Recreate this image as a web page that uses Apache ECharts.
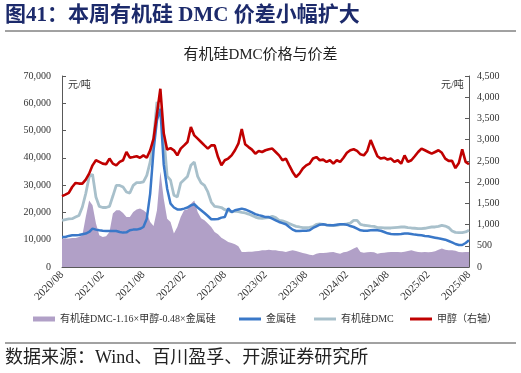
<!DOCTYPE html>
<html><head><meta charset="utf-8">
<script src="https://cdn.jsdelivr.net/npm/echarts@6/dist/echarts.min.js"></script>
<style>html,body{margin:0;padding:0;background:#fff}#c{width:521px;height:373px}</style>
</head><body><div id="c"></div>
<script>
const tickLabels = ['2020/08','2021/02','2021/08','2022/02','2022/08','2023/02','2023/08','2024/02','2024/08','2025/02','2025/08'];
const seriesNames = ['有机硅DMC-1.16×甲醇-0.48×金属硅','金属硅','有机硅DMC','甲醇（右轴）'];
// 有机硅DMC价差 (元/吨), half-monthly from 2020/08
const spread = [10400,10400,10400,10600,10600,11000,11600,18300,24400,22600,
16000,11600,11000,11250,12830,19600,20800,20800,19800,18300,
18300,20200,21100,21400,20800,19800,16500,15000,20800,35000,
25000,17700,16500,12240,14660,18300,20800,21100,23200,24400,
20150,17900,17100,15900,14660,12830,12000,10750,10000,9160,
8800,8300,7580,5500,5500,5620,5620,5740,5860,6120,
6120,6350,6120,6120,5860,5740,5500,5860,6120,5860,
5500,5130,4900,4520,4290,4900,5130,5130,5250,5380,
5500,5130,4900,5380,5620,6120,6740,7330,5500,5250,
5380,5500,5380,4900,5130,5250,5380,5500,5500,5500,
5380,5620,5860,6120,5740,5500,5380,5500,5380,5500,
5740,6350,6740,6350,6120,6120,6000,5500,5380,5500,5500];
// 金属硅 (元/吨)
const silicon = [11000,11000,11400,11600,11600,11700,12000,12240,12830,14070,
13700,13450,13300,13200,13200,13200,13200,12830,12600,12700,
13450,13700,13700,14000,14660,17700,26900,42800,53800,58000,
37500,28700,23200,21800,21100,21100,21400,21800,22600,23000,
21800,20800,19800,18700,17500,17500,17600,18100,18300,21500,
20150,20800,21100,21400,21100,20600,20000,19400,19000,18700,
18300,18300,17700,17100,16500,16100,15650,14660,13700,13200,
13200,13300,13300,13450,14300,14900,15500,15650,15400,15300,
15300,15500,15650,15650,15500,15000,14660,14070,13450,13300,
13300,13450,13600,13450,13300,12830,12350,12100,12000,12000,
12100,12240,12240,12100,11870,11750,11620,11380,11250,11000,
10750,10500,10260,10020,9530,9040,8430,8060,8060,8800,9790];
// 有机硅DMC (元/吨)
const dmc = [17100,17400,17600,17700,18300,18900,22000,26900,33000,34000,
25650,22200,21800,21800,22200,26000,29900,29900,29300,27500,
27100,29900,30900,30900,31200,33600,38500,47000,60500,57000,
48000,33300,31800,26300,25700,30800,32000,33200,37300,38500,
33200,30800,29900,27500,23800,22200,22000,21800,21000,20600,
20150,20500,20300,20000,19800,19400,18900,18300,17900,17800,
18000,18100,18600,18100,17100,16900,16500,15900,15400,14900,
14660,14400,14400,14550,14800,15650,15770,15650,15400,15300,
15200,15300,15500,15650,15770,16100,17100,17100,15650,15300,
15200,15000,14900,14440,14440,14300,14300,14300,14440,14550,
14660,14660,14440,14300,14200,14070,14070,14200,14440,14660,
14660,14900,15280,15000,14440,13200,12700,12600,12600,12830,13450];
// 甲醇 (元/吨, 右轴)
const methanol = [1670,1705,1745,1885,1980,1965,1965,2060,2200,2395,
2515,2475,2435,2420,2555,2435,2395,2475,2515,2710,
2575,2590,2610,2575,2630,2575,2750,3025,3610,4200,
3150,2765,2800,2750,2630,2790,2865,2945,3300,3100,
3025,2945,2865,2790,2865,2865,2590,2395,2515,2555,
2630,2750,2905,3250,2890,2825,2765,2670,2735,2710,
2750,2775,2790,2710,2630,2515,2555,2395,2240,2120,
2200,2320,2395,2435,2555,2590,2515,2530,2475,2515,
2435,2515,2475,2575,2690,2750,2775,2735,2655,2630,
2735,2990,2800,2610,2555,2575,2530,2555,2475,2515,
2435,2630,2475,2515,2610,2710,2790,2750,2710,2670,
2710,2750,2690,2555,2500,2500,2330,2450,2770,2475,2420];

const categories = [];
for (let i = 0; i < spread.length; i++) {
  const m = Math.floor(i / 2);
  const y = 2020 + Math.floor((7 + m) / 12);
  const mo = (7 + m) % 12 + 1;
  categories.push(y + '/' + String(mo).padStart(2, '0') + (i % 2 ? '/16' : '/01'));
}

const SERIF = "'Liberation Serif','Noto Sans CJK SC',serif";
const COLORS = ['#b1a0c7', '#3a78c8', '#a8c0cb', '#c00000'];
const fmt = v => v.toLocaleString('en-US');

const chart = echarts.init(document.getElementById('c'), null, {renderer: 'canvas'});
const legendPos = [28, 234, 309, 405];
chart.setOption({
  animation: false,
  backgroundColor: '#fff',
  grid: {left: 62, top: 76, width: 407, height: 191, containLabel: false},
  legend: seriesNames.map((n, k) => ({
    data: [n], left: legendPos[k], top: 309, icon: 'rect',
    itemWidth: 22, itemHeight: k === 0 ? 5 : 3, itemGap: 0,
    textStyle: {fontFamily: SERIF, fontSize: 10, color: '#333'}
  })),
  xAxis: {
    type: 'category', data: categories, boundaryGap: false,
    axisLine: {lineStyle: {color: '#595959', width: 1}},
    axisTick: {inside: true, length: 4, interval: 11, lineStyle: {color: '#595959'}},
    axisLabel: {
      interval: 11, rotate: 45, margin: 6, fontFamily: SERIF, fontSize: 11, color: '#333',
      formatter: (v, i) => tickLabels[Math.round(i / 12)]
    },
    splitLine: {show: false}
  },
  yAxis: [{
    type: 'value', min: 0, max: 70000, interval: 10000, position: 'left',
    axisLine: {show: true, lineStyle: {color: '#595959'}},
    axisTick: {show: true, inside: true, length: 4, lineStyle: {color: '#595959'}},
    axisLabel: {fontFamily: SERIF, fontSize: 10, color: '#333', margin: 11, formatter: fmt},
    splitLine: {show: false}
  }, {
    type: 'value', min: 0, max: 4500, interval: 500, position: 'right',
    axisLine: {show: true, lineStyle: {color: '#595959'}},
    axisTick: {show: true, inside: true, length: 4, lineStyle: {color: '#595959'}},
    axisLabel: {fontFamily: SERIF, fontSize: 10, color: '#333', margin: 8, formatter: fmt},
    splitLine: {show: false}
  }],
  series: [
    {name: seriesNames[0], type: 'line', data: spread, yAxisIndex: 0, symbol: 'none',
     color: COLORS[0], lineStyle: {width: 0}, areaStyle: {color: COLORS[0], opacity: 1}, z: 1},
    {name: seriesNames[1], type: 'line', data: silicon, yAxisIndex: 0, symbol: 'none',
     color: COLORS[1], lineStyle: {width: 2.5, color: COLORS[1]}, z: 3},
    {name: seriesNames[2], type: 'line', data: dmc, yAxisIndex: 0, symbol: 'none',
     color: COLORS[2], lineStyle: {width: 2.8, color: COLORS[2]}, z: 2},
    {name: seriesNames[3], type: 'line', data: methanol, yAxisIndex: 1, symbol: 'none',
     color: COLORS[3], lineStyle: {width: 2.6, color: COLORS[3]}, z: 4}
  ],
  graphic: [
    {type: 'text', left: 5, top: 5, style: {text: '图41：本周有机硅 DMC 价差小幅扩大',
      font: "bold 21px 'Liberation Serif','Noto Sans CJK SC',serif", fill: '#1c2a6b'}},
    {type: 'line', shape: {x1: 5, y1: 31, x2: 516, y2: 31}, style: {stroke: '#444', lineWidth: 1}},
    {type: 'text', left: 'center', top: 48, style: {text: '有机硅DMC价格与价差',
      font: "15px 'Liberation Serif','Noto Sans CJK SC',serif", fill: '#222'}},
    {type: 'text', left: 68, top: 80, style: {text: '元/吨',
      font: "10px 'Liberation Serif','Noto Sans CJK SC',serif", fill: '#333'}},
    {type: 'text', left: 441, top: 80, style: {text: '元/吨',
      font: "10px 'Liberation Serif','Noto Sans CJK SC',serif", fill: '#333'}},
    {type: 'line', shape: {x1: 5, y1: 343, x2: 516, y2: 343}, style: {stroke: '#444', lineWidth: 1}},
    {type: 'text', left: 5, top: 349, style: {text: '数据来源：Wind、百川盈孚、开源证券研究所',
      font: "18px 'Liberation Serif','Noto Sans CJK SC',serif", fill: '#222'}}
  ]
});
</script></body></html>
